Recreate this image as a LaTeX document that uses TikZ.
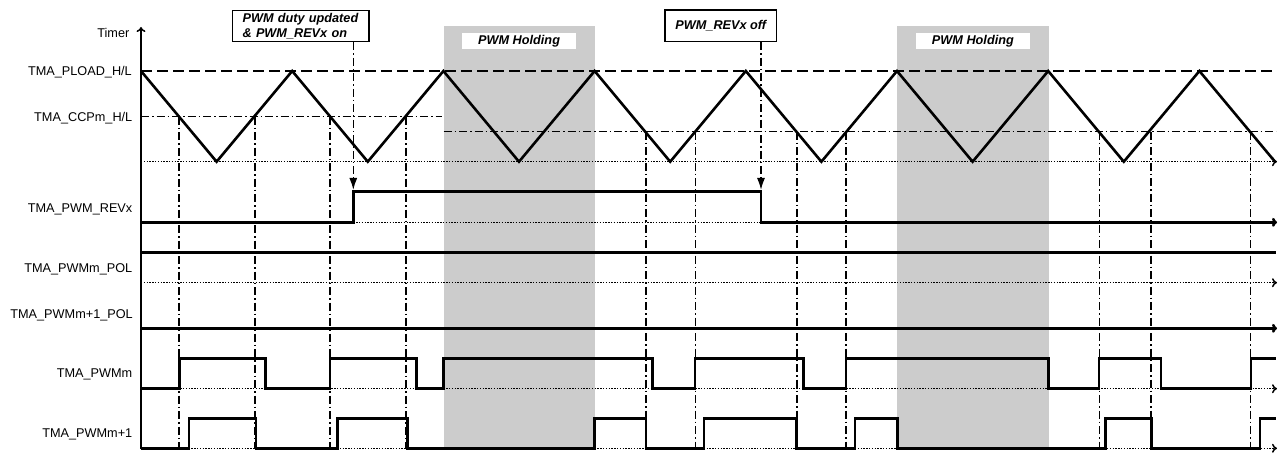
\documentclass[tikz,border=0pt]{standalone}
\usepackage{fontspec}
\setmainfont{Liberation Sans}
\usetikzlibrary{arrows.meta}
\definecolor{holdgray}{RGB}{204,204,204}

\begin{document}
\begin{tikzpicture}[x=1pt,y=-1pt,
  font=\fontsize{12.7}{15}\selectfont,
  >={To[length=5pt,width=9pt]},
  sig/.style={line width=2.6pt},
  base/.style={line width=1.5pt,dash pattern=on 1.4pt off 1.4pt},
  ccpline/.style={line width=1.5pt,dash pattern=on 8pt off 3pt on 1.5pt off 3pt},
  lbl/.style={anchor=base east,inner sep=0pt},
  note/.style={draw,line width=1.5pt,font=\fontsize{12.7}{15}\selectfont\bfseries\itshape,
    inner xsep=0pt,inner ysep=0pt,minimum height=31.4pt},
  hold/.style={fill=white,inner sep=0pt,minimum width=114.5pt,minimum height=15.7pt,
    font=\fontsize{12.7}{15}\selectfont\bfseries\itshape}]

\useasboundingbox (0,0) rectangle (1283,454);

\fill[holdgray] (443.5,26) rectangle (594.7,450);
\fill[holdgray] (897.3,26) rectangle (1048.5,450);
\node[hold] (hold1) at (519.1,41.2) {PWM Holding};
\node[hold] (hold2) at (972.9,41.2) {PWM Holding};

\node[lbl] (timer) at (129.5,37.8) {Timer};
\node[lbl] (pload) at (132,75.5) {TMA\_PLOAD\_H/L};
\node[lbl] (ccp) at (132.5,121.2) {TMA\_CCPm\_H/L};
\node[lbl] (revx) at (132.5,212.2) {TMA\_PWM\_REVx};
\node[lbl] (polm) at (132.5,272.8) {TMA\_PWMm\_POL};
\node[lbl] (polmm) at (133,318.5) {TMA\_PWMm+1\_POL};
\node[lbl] (pwmm) at (132.5,377.2) {TMA\_PWMm};
\node[lbl] (pwmmm) at (132.5,437.8) {TMA\_PWMm+1};

\draw[line width=1.5pt,->] (141,449) -- (141,27);

\draw[line width=1.7pt,dash pattern=on 11pt off 5pt] (141,71) -- (1276,71);
\draw[ccpline] (141,116.7) -- (442,116.7);
\draw[ccpline] (443.5,131.7) -- (1276,131.7);
\draw[base,->] (141,161.7) -- (1277,161.7);

\draw[sig] (141,71) -- (216.6,161.7) -- (292.2,71) -- (367.8,161.7) -- (443.4,71)
  -- (519,161.7) -- (594.6,71) -- (670.2,161.7) -- (745.8,71) -- (821.4,161.7)
  -- (897,71) -- (972.6,161.7) -- (1048.2,71) -- (1123.8,161.7) -- (1199.4,71)
  -- (1275,161.7);

\draw[ccpline] (179,116.7) -- (179,449) (255,116.7) -- (255,449)
  (330,116.7) -- (330,449) (406,116.7) -- (406,449);
\draw[ccpline] (646,131.7) -- (646,449) (695.5,131.7) -- (695.5,449)
  (797,131.7) -- (797,449) (846,131.7) -- (846,449)
  (1099.5,131.7) -- (1099.5,449) (1151,131.7) -- (1151,449)
  (1250.5,131.7) -- (1250.5,449);

\node[note,minimum width=136.7pt,text width=116pt,align=left] (upd) at (300.6,26)
  {PWM duty updated\\\& PWM\_REVx on};
\node[note,minimum width=111.7pt] (off) at (720.8,25.7) {PWM\_REVx off};

\coordinate (revon) at (353.3,190);
\coordinate (revoff) at (761,190);
\draw[ccpline,-{Latex[length=12pt,width=8pt]}] (upd.south -| revon) -- (revon);
\draw[ccpline,-{Latex[length=12pt,width=8pt]}] (off.south -| revoff) -- (revoff);

\draw[base] (353.3,222.3) -- (761,222.3);
\draw[sig,->] (141,222.3) -| (353.3,191.7) -| (761,222.3) -- (1277,222.3);

\draw[base,->] (141,282.7) -- (1277,282.7);
\draw[sig] (141,252.7) -- (1276,252.7);

\draw[sig,->] (141,328.3) -- (1277,328.3);

\draw[base,->] (141,388.7) -- (1277,388.7);
\draw[sig] (141,388.7) -| (179.3,358.3) -| (265.7,388.7) -| (330,358.3)
  -| (416.7,388.7) -| (443.5,358.3) -| (652.7,388.7) -| (695,358.3)
  -| (803.3,388.7) -| (846,358.3) -| (1048.3,388.7) -| (1099,358.3)
  -| (1161,388.7) -| (1251,358.3) -- (1276,358.3);

\draw[base,->] (141,448.3) -- (1277,448.3);
\draw[sig] (141,448.3) -| (189,418.3) -| (256,448.3) -| (337.7,418.3)
  -| (407.3,448.3) -| (594.5,418.3) -| (646,448.3) -| (704,418.3)
  -| (796.7,448.3) -| (855,418.3) -| (897.7,448.3) -| (1105.7,418.3)
  -| (1151.7,448.3) -| (1260,418.3) -- (1276,418.3);

\end{tikzpicture}
\end{document}
